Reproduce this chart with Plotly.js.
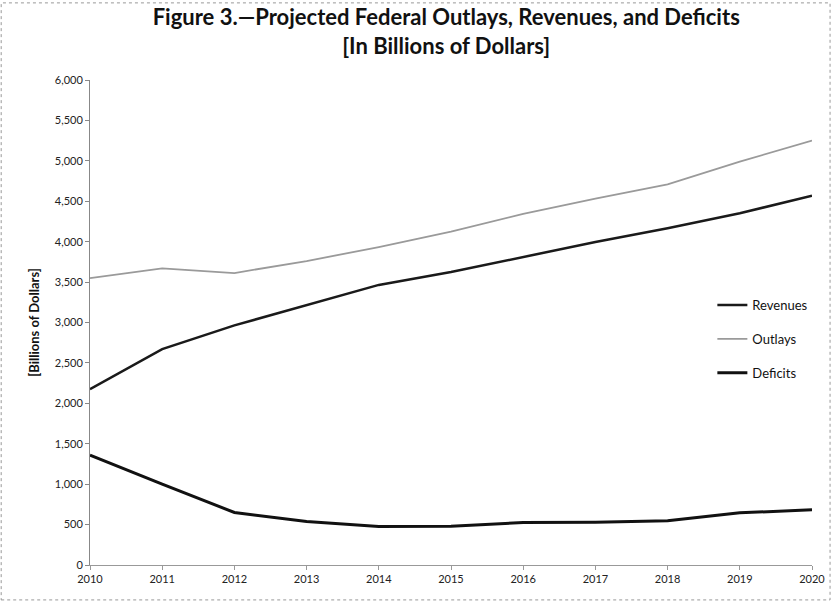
<!DOCTYPE html>
<html>
<head>
<meta charset="utf-8">
<script src="https://cdn.plot.ly/plotly-3.0.1.min.js"></script>
<style>html,body{margin:0;padding:0;background:#fff;}#chart{width:831px;height:605px;}</style>
</head>
<body>
<div id="chart"></div>
<script>
const years = [2010, 2011, 2012, 2013, 2014, 2015, 2016, 2017, 2018, 2019, 2020];
const revenues = [2175, 2670, 2964, 3218, 3465, 3625, 3814, 3995, 4166, 4352, 4567];
const outlays = [3550, 3670, 3612, 3760, 3933, 4123, 4345, 4533, 4710, 4990, 5251];
const deficits = [1360, 1000, 650, 539, 475, 480, 525, 530, 546, 645, 682];
const yTicks = [0, 500, 1000, 1500, 2000, 2500, 3000, 3500, 4000, 4500, 5000, 5500, 6000];

const traces = [
  {x: years, y: revenues, name: 'Revenues', mode: 'lines', legendgroup: 'r',
   line: {color: '#1a1a1a', width: 2.5}},
  {x: years, y: outlays, name: 'Outlays', mode: 'lines', legendgroup: 'o',
   line: {color: '#9a9a9a', width: 1.8}},
  {x: years, y: deficits, name: 'Deficits', mode: 'lines', legendgroup: 'd',
   line: {color: '#111111', width: 3}}
];

const layout = {
  width: 831, height: 605,
  margin: {l: 90, r: 19, t: 80, b: 40},
  paper_bgcolor: '#fff', plot_bgcolor: '#fff',
  font: {family: 'Lato, "Open Sans", sans-serif', color: '#222', size: 11},
  title: {
    text: '<b>Figure 3.\u2014Projected Federal Outlays, Revenues, and Deficits</b><br><b>[In Billions of Dollars]</b>',
    font: {family: 'Lato, "Open Sans", sans-serif', size: 22, color: '#111'},
    x: 0.537, xanchor: 'center', y: 0.958, yanchor: 'top'
  },
  xaxis: {
    range: [2010, 2020], tickvals: years, ticktext: years.map(String),
    showgrid: false, zeroline: false, showline: true, linecolor: '#999', linewidth: 1,
    ticks: 'outside', ticklen: 4, tickcolor: '#999', tickfont: {size: 11, color: '#222'}
  },
  yaxis: {
    range: [0, 6000], tickvals: yTicks, tickformat: ',d',
    showgrid: false, zeroline: false, showline: true, linecolor: '#888', linewidth: 1,
    ticks: 'outside', ticklen: 4, tickcolor: '#888', tickfont: {size: 11, color: '#222'},
    title: {text: '<b>[Billions of Dollars]</b>', font: {size: 13, color: '#111'}, standoff: 12}
  },
  legend: {
    x: 0.862, y: 0.466, xanchor: 'left', yanchor: 'middle',
    font: {size: 13, color: '#111'}, bgcolor: 'rgba(0,0,0,0)',
    tracegroupgap: 14, traceorder: 'grouped'
  },
  shapes: [{
    type: 'rect', xref: 'paper', yref: 'paper', x0: -0.123, x1: 1.025, y0: -0.072, y1: 1.159,
    line: {color: '#999', width: 1, dash: 'dot'}
  }],
  showlegend: true
};

Plotly.newPlot('chart', traces, layout, {displayModeBar: false, staticPlot: true});
</script>
</body>
</html>
